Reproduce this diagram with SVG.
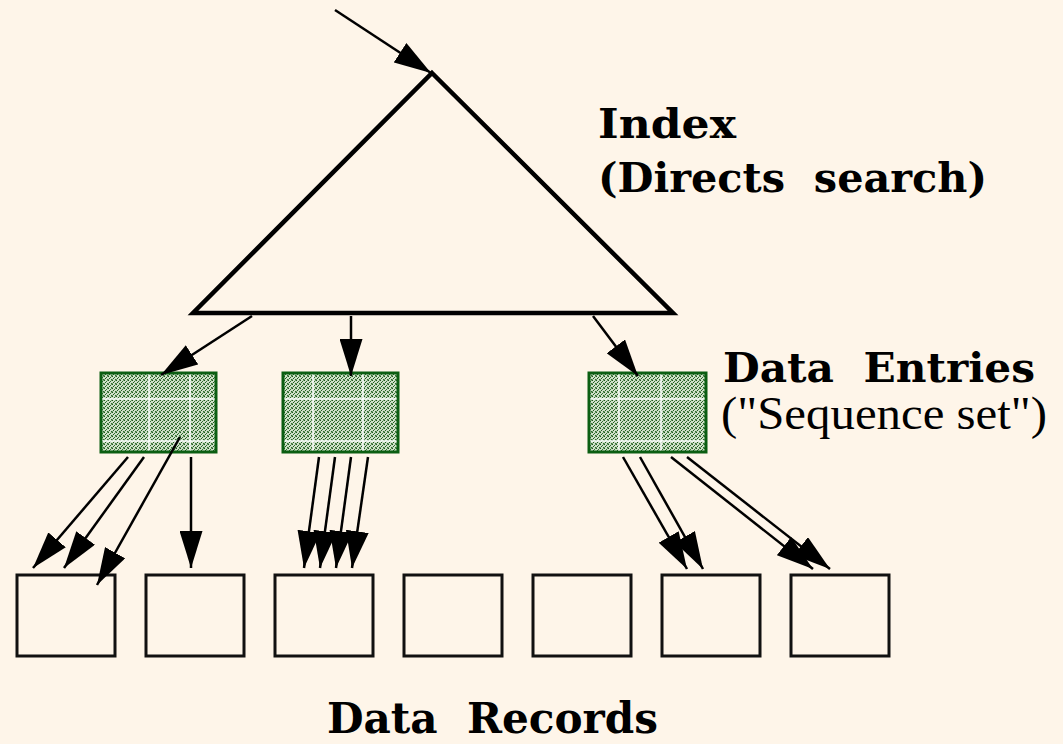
<svg xmlns="http://www.w3.org/2000/svg" width="1063" height="744" viewBox="0 0 1063 744">
  <defs>
    <pattern id="stip" width="4" height="4" patternUnits="userSpaceOnUse">
      <rect width="4" height="4" fill="#cfe0c8"/>
      <rect x="0" y="0" width="1" height="1" fill="#1e5a1e"/>
      <rect x="2" y="1" width="1" height="1" fill="#2f6e2f"/>
      <rect x="1" y="2" width="1" height="1" fill="#1e5a1e"/>
      <rect x="3" y="3" width="1" height="1" fill="#2f6e2f"/>
      <rect x="3" y="0" width="1" height="1" fill="#6f9a6a"/>
      <rect x="0" y="3" width="1" height="1" fill="#6f9a6a"/>
    </pattern>
    <marker id="ah" markerUnits="userSpaceOnUse" markerWidth="37" markerHeight="23" viewBox="0 0 37 23" refX="37" refY="11.5" orient="auto">
      <path d="M0,0 L37,11.5 L0,23 z" fill="#000"/>
    </marker>
  </defs>
  <style>
    .bg { fill: #fef5e9; }
    .rec { fill: none; stroke: #111; stroke-width: 3; }
    .ent { fill: url(#stip); stroke: #0b5e12; stroke-width: 3; }
    .grid { stroke: #ffffff; stroke-width: 1.5; fill: none; }
    .tri { fill: none; stroke: #000; stroke-width: 4.5; stroke-linejoin: miter; }
    .arr { stroke: #000; stroke-width: 2.5; fill: none; marker-end: url(#ah); }
    .bold { font-family: "DejaVu Serif", "Liberation Serif", serif; font-weight: bold; font-size: 41px; fill: #000; }
    .reg { font-family: "Liberation Serif", "Times New Roman", serif; font-size: 46px; fill: #000; }
  </style>
  <rect class="bg" x="0" y="0" width="1063" height="744"/>

  <g id="index">
    <polygon class="tri" points="432,73 673,313 193,313"/>
  </g>

  <g id="entry1">
    <rect class="ent" x="101" y="373" width="115" height="79"/>
    <path class="grid" d="M149,374.5 V450.5 M190,374.5 V450.5 M102.5,399 H214.5 M102.5,441 H214.5"/>
  </g>
  <g id="entry2">
    <rect class="ent" x="283" y="373" width="115" height="79"/>
    <path class="grid" d="M313,374.5 V450.5 M363,374.5 V450.5 M284.5,399 H396.5 M284.5,441 H396.5"/>
  </g>
  <g id="entry3">
    <rect class="ent" x="589" y="373" width="117" height="79"/>
    <path class="grid" d="M619,374.5 V450.5 M661,374.5 V450.5 M590.5,399 H704.5 M590.5,441 H704.5"/>
  </g>

  <g id="rec1"><rect class="rec" x="17" y="575" width="98" height="81"/></g>
  <g id="rec2"><rect class="rec" x="146" y="575" width="98" height="81"/></g>
  <g id="rec3"><rect class="rec" x="275" y="575" width="98" height="81"/></g>
  <g id="rec4"><rect class="rec" x="404" y="575" width="98" height="81"/></g>
  <g id="rec5"><rect class="rec" x="533" y="575" width="98" height="81"/></g>
  <g id="rec6"><rect class="rec" x="662" y="575" width="98" height="81"/></g>
  <g id="rec7"><rect class="rec" x="791" y="575" width="98" height="81"/></g>

  <g id="connectors">
    <line class="arr" x1="335" y1="10" x2="431" y2="73"/>
    <line class="arr" x1="252" y1="316" x2="161" y2="375"/>
    <line class="arr" x1="351" y1="316" x2="351" y2="376"/>
    <line class="arr" x1="593" y1="316" x2="638" y2="376"/>

    <line class="arr" x1="128" y1="457" x2="33" y2="568"/>
    <line class="arr" x1="144" y1="457" x2="64" y2="568"/>
    <line class="arr" x1="180" y1="437" x2="97" y2="585"/>
    <line class="arr" x1="191" y1="457" x2="191" y2="568"/>

    <line class="arr" x1="319" y1="457" x2="304" y2="568"/>
    <line class="arr" x1="335" y1="457" x2="320" y2="568"/>
    <line class="arr" x1="351" y1="457" x2="336" y2="568"/>
    <line class="arr" x1="368" y1="457" x2="352" y2="568"/>

    <line class="arr" x1="623" y1="457" x2="687" y2="569"/>
    <line class="arr" x1="640" y1="457" x2="703" y2="569"/>
    <line class="arr" x1="671" y1="457" x2="813" y2="569"/>
    <line class="arr" x1="687" y1="457" x2="830" y2="569"/>
  </g>

  <g id="labels">
    <text class="bold" x="598" y="138" textLength="138" lengthAdjust="spacingAndGlyphs">Index</text>
    <text class="bold" x="598" y="192" textLength="389" lengthAdjust="spacingAndGlyphs" xml:space="preserve">(Directs  search)</text>
    <text class="bold" x="723" y="382" textLength="312" lengthAdjust="spacingAndGlyphs" xml:space="preserve">Data  Entries</text>
    <text class="reg" x="721" y="429" textLength="326" lengthAdjust="spacingAndGlyphs">("Sequence set")</text>
    <text class="bold" x="327" y="733" style="font-size:42px" textLength="331" lengthAdjust="spacingAndGlyphs" xml:space="preserve">Data  Records</text>
  </g>
</svg>
